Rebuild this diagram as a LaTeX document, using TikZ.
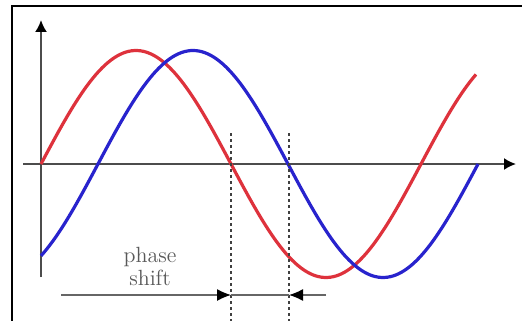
\documentclass[tikz,border=0pt]{standalone}
\usetikzlibrary{arrows.meta}
\definecolor{wavered}{RGB}{222,50,60}
\definecolor{waveblue}{RGB}{40,35,205}
\begin{document}
\begin{tikzpicture}[x=0.5pt, y=-0.5pt,
  axis/.style={draw=black!70, line width=1pt, -{Latex[length=6pt,width=6pt,black]}},
  wave/.style={line width=1.6pt, smooth, samples=150},
  guide/.style={draw=black!75, line width=1pt, dash pattern=on 1.4pt off 1.6pt},
  gauge/.style={draw=black!60, line width=0.6pt, -{Latex[length=7pt,width=6pt,black]}},
  note/.style={text=black!65, align=center, font=\fontsize{11}{11.5}\selectfont}
]
\useasboundingbox (0,0) rectangle (522,320);
\clip (0,0) rectangle (522,320);
\fill[white] (0,0) rectangle (522,320);
% frame
\draw[line width=1pt] (12,6) rectangle (560,360);
% axes
\coordinate (ytop) at (41,20);
\coordinate (ybot) at (41,277);
\coordinate (xl) at (23,164);
\coordinate (xr) at (516,164);
\draw[axis] (ybot) -- (ytop);
\draw[axis] (xl) -- (xr);
% waves
\draw[wave, wavered]
  plot[domain=41:476] (\x, {164-113.5*sin((\x-41)/380*360)});
\draw[wave, waveblue]
  plot[domain=41:478] (\x, {164-113.5*sin((\x-98)/380*360)});
% zero crossings
\coordinate (za) at (231,133);
\coordinate (zb) at (289,133);
\coordinate (za') at (231,330);
\coordinate (zb') at (289,330);
\draw[guide] (za) -- (za');
\draw[guide] (zb) -- (zb');
% phase shift
\node[note] (shift) at (150,266) {phase\\shift};
\coordinate (pa) at (231,295);
\coordinate (pb) at (289,295);
\coordinate (pl) at (61,295);
\coordinate (pr) at (326,295);
\draw[gauge] (pl) -- (pa);
\draw[gauge] (pr) -- (pb);
\draw[draw=black!60, line width=0.6pt] (pa) -- (pb);
\end{tikzpicture}
\end{document}
